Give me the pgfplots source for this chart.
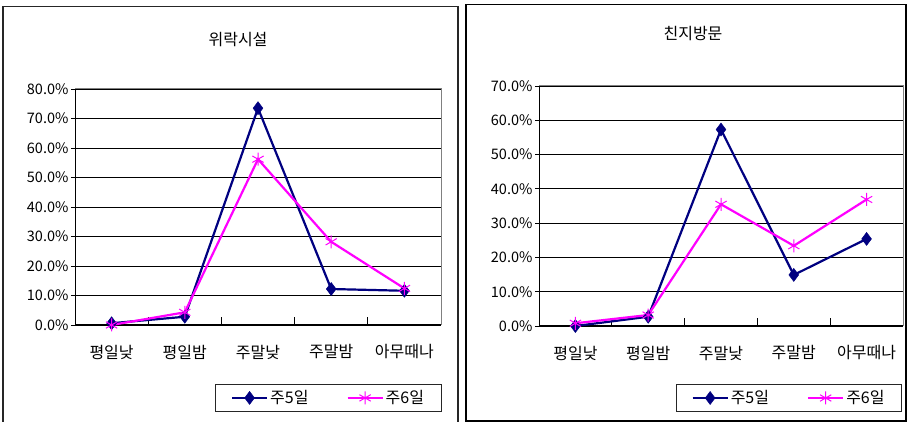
\documentclass[border=0pt]{standalone}
\usepackage{pgfplots}
\pgfplotsset{compat=1.18}
\usepackage{fontspec}
\setmainfont{Noto Sans CJK KR}
\definecolor{navyc}{HTML}{000080}
\definecolor{magc}{HTML}{FF00FF}
\pgfplotsset{panel/.style={
  scale only axis, anchor=south west, clip=false,
  xmin=0, xmax=5, ymin=0,
  xtick={0.5,1.5,2.5,3.5,4.5},
  xticklabels={평일낮,평일밤,주말낮,주말밤,아무때나},
  minor xtick={0,1,2,3,4,5},
  axis lines*=left,
  axis line style={black, line width=1pt, -},
  ymajorgrids, grid style={black, line width=0.8pt},
  xtick align=inside, ytick align=outside,
  major tick length=4pt, minor tick length=8pt,
  every major x tick/.append style={draw=none},
  every minor x tick/.append style={black, line width=0.8pt},
  every major y tick/.append style={black, line width=0.8pt},
  /pgf/number format/assume math mode=true,
  yticklabel={\pgfmathprintnumber[fixed,fixed zerofill,precision=1]{\tick}\%},
  font=\fontsize{16}{18}\selectfont,
  yticklabel style={font=\fontsize{14.5}{16}\selectfont, xshift=1pt},
  xticklabel style={font=\fontsize{16}{18}\selectfont, anchor=center, yshift=-27pt},
  legend columns=2,
  legend style={draw=black!85, line width=1pt, font=\fontsize{16}{18}\selectfont,
    inner xsep=15pt, inner ysep=4pt, anchor=center, fill=white},
  legend cell align=left,
  /tikz/every even column/.append style={column sep=36pt},
  legend image code/.code={\draw[mark repeat=2,mark phase=2,#1] plot coordinates {(0pt,0pt) (17.5pt,0pt) (35pt,0pt)};},
  s5/.style={navyc, line width=2.2pt, mark=diamond*, mark size=6.5pt, mark options={solid, fill=navyc, line width=0.5pt}},
  s6/.style={magc, line width=2.2pt, mark=asterisk, mark size=6.5pt, mark options={solid, line width=1pt}},
}}
\begin{document}
\begin{tikzpicture}[x=1pt,y=1pt]
\useasboundingbox (0,0) rectangle (916,422);
\draw[black!85, line width=1.5pt] (3,-10) -- (3,415.5) -- (458,415.5) -- (458,-10);
\draw[black, line width=1.5pt] (466,1) rectangle (906,417.3);
\node[font=\fontsize{16}{18}\selectfont] at (238,382) {위락시설};
\node[font=\fontsize{16}{18}\selectfont] at (693,388) {친지방문};

\begin{axis}[panel, at={(75pt,97pt)}, width=366pt, height=236pt,
  ymax=80, ytick={0,10,...,80},
  legend style={at={(axis description cs:0.6926,-0.309)}}]
\addplot[s5] coordinates {(0.5,0.6) (1.5,2.8) (2.5,73.5) (3.5,12.2) (4.5,11.6)};
\addlegendentry{주5일}
\addplot[s6] coordinates {(0.5,0.0) (1.5,4.3) (2.5,56.2) (3.5,28.2) (4.5,12.4)};
\addlegendentry{주6일}
\draw[gray, line width=1pt] (rel axis cs:0,1) -- (rel axis cs:1,1) -- (rel axis cs:1,0);
\end{axis}

\begin{axis}[panel, at={(539pt,96pt)}, width=364pt, height=240pt,
  ymax=70, ytick={0,10,...,70},
  legend style={at={(axis description cs:0.687,-0.30)}}]
\addplot[s5] coordinates {(0.5,0.0) (1.5,2.7) (2.5,57.3) (3.5,14.9) (4.5,25.4)};
\addlegendentry{주5일}
\addplot[s6] coordinates {(0.5,0.8) (1.5,3.2) (2.5,35.5) (3.5,23.4) (4.5,36.9)};
\addlegendentry{주6일}
\draw[gray, line width=1pt] (rel axis cs:0,1) -- (rel axis cs:1,1) -- (rel axis cs:1,0);
\end{axis}
\end{tikzpicture}
\end{document}
